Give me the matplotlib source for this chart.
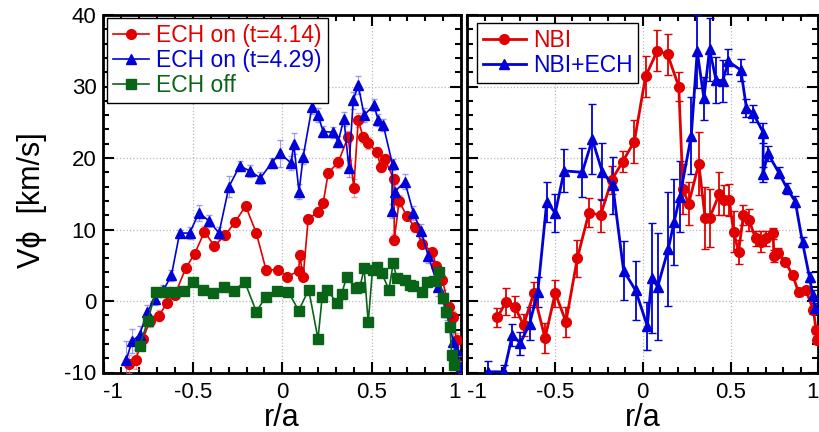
import numpy as np
import matplotlib
matplotlib.use("Agg")
import matplotlib.pyplot as plt
from matplotlib.ticker import MultipleLocator
from matplotlib.lines import Line2D

plt.rcParams['font.family'] = ['Liberation Sans', 'DejaVu Sans']
plt.rcParams['axes.unicode_minus'] = False

# ---- left panel data: ECH on / off ----
ech414_x = [-0.86, -0.82, -0.78, -0.74, -0.69, -0.645, -0.60, -0.54, -0.49, -0.435,
            -0.38, -0.32, -0.265, -0.205, -0.145, -0.09, -0.025, 0.027, 0.092, 0.098,
            0.117, 0.145, 0.20, 0.229, 0.257, 0.313, 0.369, 0.40, 0.425, 0.453,
            0.477, 0.528, 0.552, 0.574, 0.625, 0.627, 0.654, 0.696, 0.742, 0.783,
            0.84, 0.86, 0.895, 0.933, 0.953, 0.975, 0.994]
ech414_y = [-8.8, -8.2, -5.3, -2.8, -2.05, -0.3, 0.9, 4.6, 6.6, 9.7,
            7.7, 9.2, 11.0, 13.3, 9.5, 4.3, 4.4, 3.4, 4.2, 6.4,
            3.4, 11.4, 12.5, 13.7, 17.9, 19.4, 23.0, 15.8, 25.3, 22.9,
            22.1, 20.9, 18.7, 19.8, 17.0, 8.6, 14.0, 11.9, 10.3, 8.0,
            6.85, 4.9, 3.0, -0.9, -2.2, -5.5, -9.4]
ech414_e = [1.2, 1.3, 1.0, 0.8, 0.8, 0.6, 0.6, 0.6, 0.6, 0.8,
            0.6, 0.6, 0.6, 0.6, 0.6, 0.6, 0.5, 0.5, 0.6, 0.8,
            0.5, 0.6, 0.6, 0.6, 0.7, 0.8, 0.8, 1.2, 1.0, 0.8,
            0.8, 0.7, 0.7, 0.7, 0.7, 0.8, 0.8, 0.6, 0.6, 0.6,
            0.6, 0.6, 0.6, 0.8, 0.8, 1.0, 1.0]

ech429_x = [-0.873, -0.84, -0.798, -0.757, -0.714, -0.665, -0.62, -0.574, -0.518, -0.466,
            -0.41, -0.354, -0.298, -0.238, -0.182, -0.122, -0.06, -0.014, 0.05, 0.064,
            0.094, 0.117, 0.167, 0.20, 0.229, 0.285, 0.313, 0.345, 0.373, 0.397,
            0.425, 0.458, 0.513, 0.537, 0.565, 0.617, 0.612, 0.63, 0.686, 0.733,
            0.776, 0.817, 0.873, 0.897, 0.92, 0.957, 0.972, 0.998]
ech429_y = [-8.25, -5.6, -4.75, -1.6, 0.25, 1.5, 3.6, 9.5, 9.5, 12.35,
            11.2, 9.5, 16.0, 18.9, 18.2, 17.2, 19.3, 20.65, 19.3, 22.0,
            15.3, 20.2, 27.2, 26.0, 23.7, 23.6, 22.3, 25.5, 18.55, 28.1,
            30.2, 26.0, 27.4, 25.3, 24.6, 19.1, 12.6, 15.3, 16.7, 12.35,
            9.8, 6.3, 1.9, 0.4, -1.5, -5.7, -6.85, -9.2]
ech429_e = [2.6, 1.7, 1.2, 1.0, 0.8, 0.8, 0.8, 0.5, 0.8, 1.1,
            0.8, 0.8, 1.5, 0.7, 0.8, 0.9, 0.7, 1.9, 1.0, 1.5,
            1.0, 1.0, 1.0, 1.0, 0.8, 0.8, 0.8, 1.0, 1.2, 1.2,
            1.2, 1.0, 0.8, 0.8, 0.8, 0.8, 1.0, 1.0, 1.0, 1.0,
            1.0, 1.0, 1.2, 1.2, 1.2, 1.5, 1.5, 1.5]

echoff_x = [-0.798, -0.752, -0.709, -0.658, -0.608, -0.552, -0.50, -0.444, -0.388, -0.328,
            -0.27, -0.21, -0.145, -0.092, -0.029, 0.034, 0.092, 0.148, 0.20, 0.223,
            0.251, 0.307, 0.332, 0.36, 0.412, 0.434, 0.458, 0.481, 0.505, 0.528,
            0.556, 0.597, 0.621, 0.64, 0.686, 0.714, 0.733, 0.78, 0.808, 0.849,
            0.878, 0.897, 0.916, 0.938, 0.948, 0.961]
echoff_y = [-6.3, -2.75, 1.2, 1.2, 1.2, 1.4, 2.7, 1.6, 1.1, 2.0,
            1.45, 2.7, -1.5, 0.6, 1.45, 1.3, -1.35, 1.6, -5.3, 0.5,
            1.55, -0.3, 1.0, 3.3, 1.85, 1.9, 4.55, -3.0, 4.4, 4.7,
            3.9, 1.6, 5.3, 3.2, 3.0, 2.25, 2.1, 1.3, 2.7, 2.8,
            4.1, 0.4, -1.6, -3.6, -7.55, -8.95]

# ---- right panel data: NBI / NBI+ECH ----
nbi_x = [-0.827, -0.778, -0.728, -0.678, -0.62, -0.556, -0.498, -0.437, -0.372, -0.306,
         -0.24, -0.177, -0.114, -0.048, 0.016, 0.083, 0.141, 0.205, 0.229, 0.261,
         0.319, 0.355, 0.38, 0.436, 0.464, 0.492, 0.517, 0.545, 0.573, 0.605,
         0.642, 0.67, 0.704, 0.742, 0.746, 0.77, 0.811, 0.853, 0.887, 0.928,
         0.971, 0.986, 0.992]
nbi_y = [-2.3, -0.1, -0.8, -3.35, 1.1, -5.2, 1.1, -2.9, 6.0, 12.35,
         12.0, 16.9, 19.5, 22.3, 31.4, 35.0, 34.5, 30.0, 15.6, 13.6,
         19.2, 11.6, 11.6, 15.0, 14.1, 14.1, 9.7, 6.9, 12.0, 11.3,
         8.75, 8.3, 8.75, 9.45, 6.3, 6.75, 5.5, 3.6, 1.2, 1.5,
         -1.25, -4.05, -5.45]
nbi_e = [1.3, 1.9, 1.5, 1.6, 1.6, 2.1, 1.9, 2.1, 2.6, 2.0,
         2.3, 2.0, 1.5, 3.0, 2.8, 2.85, 2.9, 2.0, 3.5, 3.0,
         4.4, 4.3, 4.0, 3.0, 2.1, 2.2, 2.9, 1.7, 1.4, 1.5,
         1.0, 1.5, 1.0, 0.8, 0.8, 0.6, 0.5, 0.5, 0.5, 0.5,
         0.5, 0.5, 0.5]

nbiech_x = [-0.879, -0.789, -0.742, -0.696, -0.644, -0.597, -0.546, -0.498, -0.447, -0.344,
            -0.287, -0.231, -0.171, -0.109, -0.041, 0.026, 0.051, 0.085, 0.145, 0.179,
            0.211, 0.276, 0.31, 0.348, 0.38, 0.417, 0.455, 0.487, 0.558, 0.59,
            0.628, 0.686, 0.684, 0.712, 0.774, 0.821, 0.868, 0.909, 0.949, 0.967,
            0.98]
nbiech_y = [-9.9, -9.9, -4.75, -5.9, -3.2, 1.3, 13.9, 12.3, 18.2, 18.0,
            22.6, 18.1, 16.2, 4.25, 1.5, -3.5, 3.2, 2.0, 7.25, 11.1,
            14.6, 23.1, 34.9, 28.35, 35.2, 30.9, 30.8, 33.5, 32.3, 27.0,
            26.25, 23.55, 17.7, 20.65, 17.95, 15.75, 13.9, 8.2, 3.3, 0.85,
            -1.0]
nbiech_e = [1.5, 1.0, 1.5, 1.6, 2.3, 2.1, 2.8, 2.6, 3.0, 3.4,
            4.9, 4.0, 4.0, 4.1, 4.1, 3.3, 7.7, 7.5, 8.0, 6.0,
            5.0, 5.4, 5.1, 3.0, 4.4, 3.2, 2.9, 1.7, 1.6, 1.3,
            1.2, 1.4, 1.0, 1.0, 0.8, 0.8, 0.8, 0.7, 0.7, 0.7,
            0.7]

xticks = [-1, -0.5, 0, 0.5, 1]
xticklabels = ['-1', '-0.5', '0', '0.5', '1']
yticks = [-10, 0, 10, 20, 30, 40]

red = '#e00000'
blue = '#0000d8'
green = '#0a6418'

fig = plt.figure(figsize=(8.2, 4.32), dpi=100)
ax1 = fig.add_axes([103.5 / 820, 59.5 / 432, 357.5 / 820, 357.5 / 432])
ax2 = fig.add_axes([467 / 820, 59.5 / 432, 351.5 / 820, 357.5 / 432])

for ax in (ax1, ax2):
    ax.set_xlim(-1, 1)
    ax.set_ylim(-10, 40)
    ax.set_xticks(xticks, xticklabels)
    ax.set_yticks(yticks)
    ax.xaxis.set_minor_locator(MultipleLocator(0.1))
    ax.yaxis.set_minor_locator(MultipleLocator(2))
    ax.tick_params(which='both', direction='in', top=True, right=True, width=1.5,
                   labelsize=16)
    ax.tick_params(which='major', length=8)
    ax.tick_params(which='minor', length=4)
    ax.tick_params(axis='x', pad=7)
    ax.tick_params(axis='y', pad=5)
    ax.grid(True, which='major', color='#b8b8b8', linestyle=':', linewidth=0.9)
    ax.set_axisbelow(True)
    for s in ax.spines.values():
        s.set_linewidth(2)
    ax.set_xlabel('r/a', fontsize=22, labelpad=0)

labs = ax1.get_xticklabels()
labs[0].set_horizontalalignment('left')
labs[-1].set_horizontalalignment('right')
labs = ax2.get_xticklabels()
labs[0].set_horizontalalignment('left')
labs[-1].set_horizontalalignment('right')
ax2.tick_params(labelleft=False)

# left panel
ax1.errorbar(ech414_x, ech414_y, yerr=ech414_e, color=red, marker='o', ms=7, lw=1.2,
             ecolor=(0.95, 0.45, 0.45, 0.7), elinewidth=0.8, capsize=2.5, zorder=3)
ax1.errorbar(ech429_x, ech429_y, yerr=ech429_e, color=blue, marker='^', ms=7, lw=1.2,
             ecolor=(0.45, 0.45, 0.95, 0.7), elinewidth=0.8, capsize=2.5, zorder=3)
ax1.plot(echoff_x, echoff_y, color=green, marker='s', ms=6.5, lw=1.2, zorder=4)

h1 = [Line2D([], [], color=red, marker='o', ms=7, lw=1.2),
      Line2D([], [], color=blue, marker='^', ms=7, lw=1.2),
      Line2D([], [], color=green, marker='s', ms=6.5, lw=1.2)]
leg1 = ax1.legend(h1, ['ECH on (t=4.14)', 'ECH on (t=4.29)', 'ECH off'],
                  loc='upper left', bbox_to_anchor=(0.01, 0.992), borderaxespad=0,
                  fontsize=16.5, fancybox=False, edgecolor='black', framealpha=1,
                  handlelength=1.6, handletextpad=0.3, labelspacing=0.1, borderpad=0.25)
leg1.get_frame().set_linewidth(1.0)
for t, c in zip(leg1.get_texts(), [red, blue, green]):
    t.set_color(c)

# right panel
ax2.errorbar(nbi_x, nbi_y, yerr=nbi_e, color=red, marker='o', ms=7, lw=2,
             ecolor=red, elinewidth=1.3, capsize=3, zorder=3)
ax2.errorbar(nbiech_x, nbiech_y, yerr=nbiech_e, color=blue, marker='^', ms=7, lw=2,
             ecolor=blue, elinewidth=1.3, capsize=3, zorder=3)

h2 = [Line2D([], [], color=red, marker='o', ms=7, lw=2),
      Line2D([], [], color=blue, marker='^', ms=7, lw=2)]
leg2 = ax2.legend(h2, ['NBI', 'NBI+ECH'],
                  loc='upper left', bbox_to_anchor=(0.028, 0.978), borderaxespad=0,
                  fontsize=16.5, fancybox=False, edgecolor='black', framealpha=1,
                  handlelength=1.9, handletextpad=0.3, labelspacing=0.1, borderpad=0.25)
leg2.get_frame().set_linewidth(1.0)
for t, c in zip(leg2.get_texts(), [red, blue]):
    t.set_color(c)

fig.text(32 / 820, 1 - 200 / 432, 'V\u03d5  [km/s]', rotation=90, fontsize=22,
         ha='center', va='center')

fig.savefig('out.png', dpi=100)
